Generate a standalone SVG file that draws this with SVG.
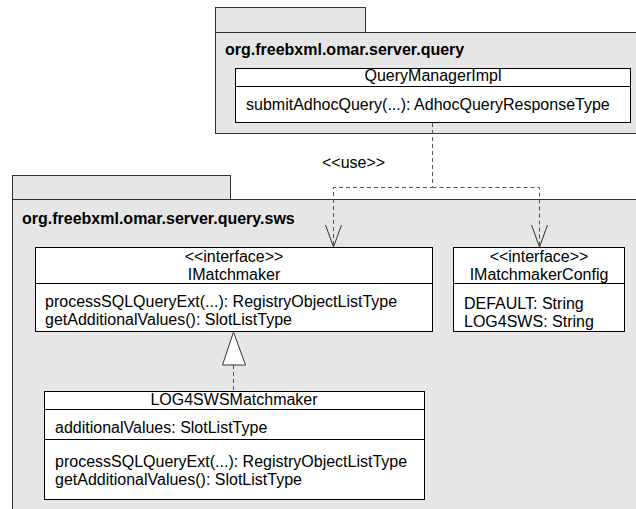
<svg xmlns="http://www.w3.org/2000/svg" width="636" height="509" viewBox="0 0 636 509">
<style>
text{font-family:"Liberation Sans",Arial,sans-serif;font-size:16px;fill:#000}
.b{font-weight:bold}
.c{text-anchor:middle}
.pkg{fill:#e6e6e6;stroke:#333;stroke-width:1}
.cls{fill:#fff;stroke:#000;stroke-width:1}
.ln{stroke:#000;stroke-width:1;fill:none}
.dash{stroke:#555;stroke-width:1;fill:none;stroke-dasharray:4,3}
.head{stroke:#333;stroke-width:1;fill:none}
</style>
<rect width="636" height="509" fill="#fff"/>
<g id="pkg-query">
<rect class="pkg" x="215.5" y="7.5" width="150" height="25"/>
<rect class="pkg" x="215.5" y="32.5" width="430" height="101"/>
<text class="b" x="225" y="55">org.freebxml.omar.server.query</text>
</g>
<g id="QueryManagerImpl">
<rect class="cls" x="235.5" y="68.5" width="395" height="54"/>
<line class="ln" x1="235.5" y1="86.5" x2="630.5" y2="86.5"/>
<text class="c" x="433" y="81">QueryManagerImpl</text>
<text x="246" y="110">submitAdhocQuery(...): AdhocQueryResponseType</text>
</g>
<g id="pkg-sws">
<rect class="pkg" x="12.5" y="175.5" width="218" height="24"/>
<rect class="pkg" x="12.5" y="199.5" width="640" height="330"/>
<text class="b" x="22" y="224">org.freebxml.omar.server.query.sws</text>
</g>
<g id="IMatchmaker">
<rect class="cls" x="35.5" y="247.5" width="397" height="84"/>
<line class="ln" x1="35.5" y1="283.5" x2="432.5" y2="283.5"/>
<text class="c" x="234" y="262">&lt;&lt;interface&gt;&gt;</text>
<text class="c" x="234" y="280">IMatchmaker</text>
<text x="45" y="307">processSQLQueryExt(...): RegistryObjectListType</text>
<text x="45" y="325">getAdditionalValues(): SlotListType</text>
</g>
<g id="IMatchmakerConfig">
<rect class="cls" x="453.5" y="247.5" width="171" height="84"/>
<line class="ln" x1="453.5" y1="283.5" x2="624.5" y2="283.5"/>
<text class="c" x="539" y="262">&lt;&lt;interface&gt;&gt;</text>
<text class="c" x="539" y="280">IMatchmakerConfig</text>
<text x="464" y="309">DEFAULT: String</text>
<text x="464" y="327">LOG4SWS: String</text>
</g>
<g id="LOG4SWSMatchmaker">
<rect class="cls" x="44.5" y="391.5" width="380" height="108"/>
<line class="ln" x1="44.5" y1="409.5" x2="424.5" y2="409.5"/>
<line class="ln" x1="44.5" y1="439.5" x2="424.5" y2="439.5"/>
<text class="c" x="234" y="405">LOG4SWSMatchmaker</text>
<text x="55" y="433">additionalValues: SlotListType</text>
<text x="55" y="467">processSQLQueryExt(...): RegistryObjectListType</text>
<text x="55" y="485">getAdditionalValues(): SlotListType</text>
</g>
<g id="connectors">
<polyline class="dash" points="432.5,123 432.5,187.5 333.5,187.5 333.5,247"/>
<polyline class="dash" points="432.5,187.5 539.5,187.5 539.5,247"/>
<polyline class="head" points="325.5,225 333.5,247 341.5,225"/>
<polyline class="head" points="531.5,225 539.5,247 547.5,225"/>
<text x="322" y="168">&lt;&lt;use&gt;&gt;</text>
<line class="dash" x1="233.5" y1="365" x2="233.5" y2="391"/>
<polygon class="head" fill="#fff" points="233.5,332 222.5,365 245.5,365" style="fill:#fff"/>
</g>
</svg>
